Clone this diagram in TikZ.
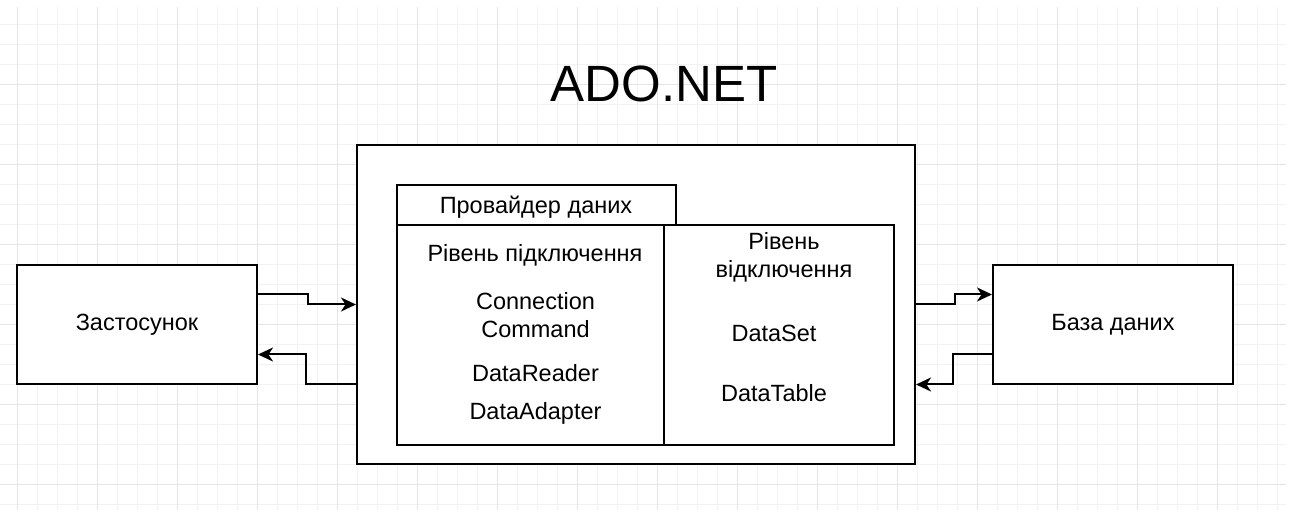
\documentclass[tikz,border=0pt]{standalone}
\usepackage{fontspec}
\setmainfont{Liberation Sans}
\usetikzlibrary{arrows.meta, positioning}

\begin{document}
\begin{tikzpicture}[
		x=1pt, y=-1pt,
		every node/.style={font=\fontsize{23.5}{28}\selectfont, inner sep=0pt},
		box/.style={draw, line width=2pt, fill=white},
		txt/.style={anchor=base, align=center},
		flow/.style={-{Stealth[length=15pt, width=14pt, inset=4.5pt]}, line width=2pt},
		minor/.style={draw=black!5, line width=1pt},
		major/.style={draw=black!10, line width=1pt}
		]
	
		% page and grid
		\fill[white] (0,0) rectangle (1293,510);
		\useasboundingbox (0,0) rectangle (1293,510);
		\foreach \i in {0,...,63} \draw[minor] ({17.3+20*\i},7) -- ({17.3+20*\i},510);
		\foreach \j in {0,...,24} \draw[minor] (0,{24.5+20*\j}) -- (1286,{24.5+20*\j});
		\foreach \i in {0,...,15} \draw[major] ({17.3+80*\i},7) -- ({17.3+80*\i},510);
		\foreach \j in {0,...,5} \draw[major] (0,{84.5+80*\j}) -- (1286,{84.5+80*\j});
	
		\node[txt, font=\fontsize{51}{60}\selectfont] (title) at (664,101.7) {ADO.NET};
	
		% outer blocks
		\node[box, minimum width=240pt, minimum height=119pt] (app) at (137,324.5) {Застосунок};
		\node[box, minimum width=558pt, minimum height=319pt] (ado) at (636,304.5) {};
		\node[box, minimum width=240pt, minimum height=119pt] (db) at (1113,324.5) {База даних};
	
		% provider table
		\node[box, minimum width=279pt, minimum height=40pt] (prov) at (536.5,205) {};
		\node[txt] (provtxt) at (536,213.5) {Провайдер даних};
		\node[box, minimum width=267pt, minimum height=220pt] (online) at (530.5,335) {};
		\node[box, minimum width=230pt, minimum height=220pt] (offline) at (779,335) {};
	
		% base of a two-line text sits on its last line
		\node[txt] (connlvl) at (535,261.5) {Рівень підключення};
		\node[txt] (conn) at (535.5,337.5) {Connection\\Command};
		\node[txt] (reader) at (535.5,381.5) {DataReader};
		\node[txt] (adapter) at (535.5,419.5) {DataAdapter};
		\node[txt] (disclvl) at (784,277.5) {Рівень\\відключення};
		\node[txt] (dataset) at (774,341.5) {DataSet};
		\node[txt] (datatable) at (774,401.5) {DataTable};
	
		% connectors
		\draw[flow] ([yshift=30pt]app.east) -- ++(50,0) |- (ado.west);
		\draw[flow] ([yshift=-80pt]ado.west) -- ++(-50,0) |- ([yshift=-30pt]app.east);
		\draw[flow] (ado.east) -- ++(39,0) |- ([yshift=30pt]db.west);
		\draw[flow] ([yshift=-30pt]db.west) -- ++(-39,0) |- ([yshift=-80pt]ado.east);
	
	\end{tikzpicture}
\end{document}
